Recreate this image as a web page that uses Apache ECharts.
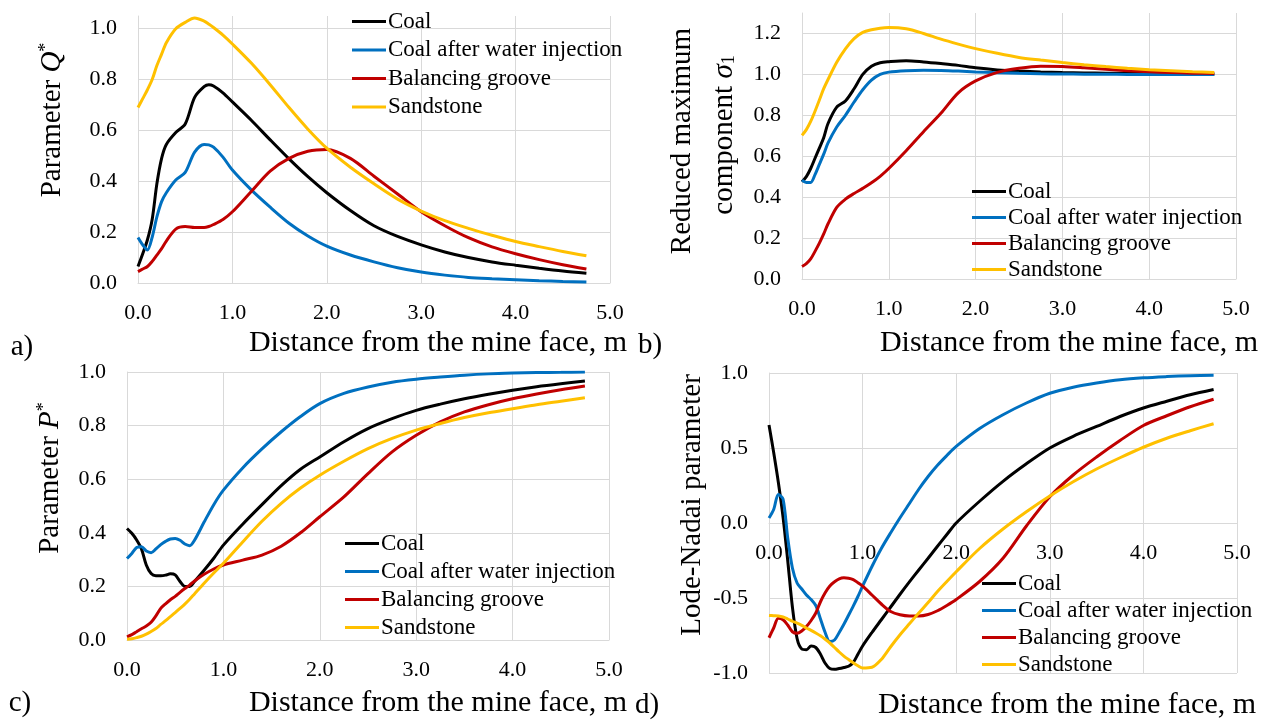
<!DOCTYPE html>
<html>
<head>
<meta charset="utf-8">
<script src="https://cdn.jsdelivr.net/npm/echarts@6/dist/echarts.min.js"></script>
<style>
  html, body { margin: 0; padding: 0; background: #fff; }
  #chart { width: 1267px; height: 720px; }
</style>
</head>
<body>
<div id="chart"></div>
<script>
// series names and colours (same in all four panels)
const seriesNames = ["Coal", "Coal after water injection", "Balancing groove", "Sandstone"];
const seriesColors = ["#000000", "#0070C0", "#C00000", "#FFC000"];

// a) parameter Q*
const distA = [0, 0.05, 0.1, 0.15, 0.2, 0.25, 0.3, 0.4, 0.5, 0.6, 0.7, 0.75, 0.8, 0.9, 1.0, 1.2, 1.4, 1.6, 1.8, 2.0, 2.25, 2.5, 2.75, 3.0, 3.25, 3.5, 3.75, 4.0, 4.25, 4.5, 4.75];
const qCoal = [0.065, 0.115, 0.17, 0.25, 0.39, 0.49, 0.545, 0.592, 0.625, 0.73, 0.772, 0.78, 0.775, 0.748, 0.712, 0.64, 0.563, 0.488, 0.418, 0.355, 0.285, 0.225, 0.183, 0.15, 0.122, 0.1, 0.083, 0.07, 0.058, 0.047, 0.038];
const qWater = [0.179, 0.15, 0.13, 0.18, 0.26, 0.32, 0.355, 0.405, 0.435, 0.515, 0.545, 0.543, 0.534, 0.495, 0.444, 0.366, 0.298, 0.235, 0.185, 0.145, 0.11, 0.083, 0.06, 0.043, 0.031, 0.022, 0.017, 0.013, 0.009, 0.006, 0.004];
const qGroove = [0.045, 0.055, 0.065, 0.085, 0.11, 0.135, 0.165, 0.212, 0.222, 0.218, 0.218, 0.222, 0.23, 0.25, 0.28, 0.36, 0.44, 0.49, 0.518, 0.525, 0.49, 0.42, 0.35, 0.28, 0.225, 0.178, 0.142, 0.115, 0.092, 0.072, 0.055];
const qSand = [0.69, 0.725, 0.76, 0.8, 0.855, 0.9, 0.945, 1.0, 1.025, 1.042, 1.03, 1.018, 1.005, 0.975, 0.94, 0.865, 0.78, 0.69, 0.605, 0.53, 0.455, 0.39, 0.33, 0.283, 0.245, 0.215, 0.188, 0.163, 0.143, 0.124, 0.107];

// b) reduced maximum component sigma1
const distB = [0, 0.05, 0.1, 0.15, 0.2, 0.25, 0.3, 0.4, 0.5, 0.6, 0.7, 0.8, 0.9, 1.0, 1.2, 1.4, 1.6, 1.8, 2.0, 2.25, 2.5, 2.75, 3.0, 3.25, 3.5, 3.75, 4.0, 4.25, 4.5, 4.75];
const sCoal = [0.475, 0.5, 0.54, 0.59, 0.64, 0.69, 0.76, 0.84, 0.87, 0.93, 1.0, 1.04, 1.057, 1.062, 1.067, 1.061, 1.053, 1.044, 1.032, 1.022, 1.016, 1.012, 1.009, 1.007, 1.006, 1.005, 1.004, 1.003, 1.002, 1.001];
const sWater = [0.483, 0.472, 0.472, 0.51, 0.56, 0.61, 0.665, 0.743, 0.8, 0.865, 0.925, 0.972, 1.0, 1.011, 1.018, 1.02, 1.019, 1.016, 1.012, 1.008, 1.005, 1.003, 1.002, 1.001, 1.001, 1.0, 1.0, 1.0, 1.0, 1.0];
const sGroove = [0.061, 0.075, 0.098, 0.135, 0.175, 0.22, 0.27, 0.35, 0.39, 0.418, 0.443, 0.47, 0.502, 0.54, 0.627, 0.72, 0.81, 0.91, 0.968, 1.01, 1.03, 1.04, 1.038, 1.032, 1.025, 1.018, 1.013, 1.009, 1.006, 1.004];
const sSand = [0.702, 0.73, 0.77, 0.82, 0.875, 0.93, 0.975, 1.059, 1.125, 1.175, 1.205, 1.218, 1.226, 1.229, 1.223, 1.2, 1.172, 1.148, 1.126, 1.103, 1.083, 1.07, 1.058, 1.047, 1.038, 1.03, 1.023, 1.018, 1.013, 1.009];

// c) parameter P*
const distC = [0, 0.05, 0.1, 0.15, 0.2, 0.25, 0.3, 0.35, 0.4, 0.45, 0.5, 0.55, 0.6, 0.65, 0.7, 0.8, 0.9, 1.0, 1.2, 1.4, 1.6, 1.8, 2.0, 2.25, 2.5, 2.75, 3.0, 3.25, 3.5, 3.75, 4.0, 4.25, 4.5, 4.75];
const pCoal = [0.416, 0.398, 0.373, 0.34, 0.28, 0.248, 0.24, 0.24, 0.242, 0.247, 0.243, 0.218, 0.2, 0.2, 0.218, 0.26, 0.305, 0.354, 0.432, 0.505, 0.576, 0.637, 0.683, 0.74, 0.789, 0.826, 0.857, 0.88, 0.9, 0.917, 0.932, 0.945, 0.956, 0.966];
const pWater = [0.304, 0.323, 0.345, 0.348, 0.332, 0.326, 0.34, 0.356, 0.368, 0.377, 0.379, 0.372, 0.358, 0.352, 0.372, 0.44, 0.505, 0.559, 0.642, 0.713, 0.777, 0.834, 0.882, 0.92, 0.944, 0.962, 0.973, 0.981, 0.988, 0.993, 0.996, 0.998, 0.999, 1.0];
const pGroove = [0.012, 0.02, 0.031, 0.042, 0.052, 0.066, 0.09, 0.118, 0.135, 0.15, 0.163, 0.178, 0.192, 0.205, 0.22, 0.245, 0.265, 0.28, 0.298, 0.317, 0.35, 0.4, 0.46, 0.534, 0.621, 0.702, 0.764, 0.814, 0.851, 0.878, 0.9, 0.918, 0.934, 0.948];
const pSand = [0.003, 0.005, 0.009, 0.014, 0.022, 0.032, 0.043, 0.058, 0.072, 0.087, 0.102, 0.118, 0.134, 0.152, 0.172, 0.212, 0.25, 0.286, 0.366, 0.443, 0.51, 0.567, 0.615, 0.667, 0.714, 0.752, 0.783, 0.808, 0.83, 0.848, 0.863, 0.878, 0.891, 0.904];

// d) Lode-Nadai parameter
const distD = [0, 0.05, 0.1, 0.15, 0.2, 0.25, 0.3, 0.35, 0.4, 0.45, 0.5, 0.55, 0.6, 0.65, 0.7, 0.75, 0.8, 0.85, 0.9, 0.95, 1.0, 1.1, 1.2, 1.3, 1.4, 1.5, 1.6, 1.7, 1.8, 1.9, 2.0, 2.25, 2.5, 2.75, 3.0, 3.25, 3.5, 3.75, 4.0, 4.25, 4.5, 4.75];
const lCoal = [0.654, 0.47, 0.27, 0.04, -0.25, -0.56, -0.77, -0.84, -0.845, -0.82, -0.83, -0.875, -0.935, -0.97, -0.975, -0.97, -0.963, -0.955, -0.93, -0.875, -0.82, -0.73, -0.645, -0.56, -0.475, -0.393, -0.313, -0.235, -0.155, -0.077, 0.0, 0.145, 0.278, 0.395, 0.5, 0.578, 0.644, 0.71, 0.767, 0.812, 0.855, 0.89];
const lWater = [0.033, 0.09, 0.19, 0.16, -0.1, -0.3, -0.4, -0.44, -0.48, -0.51, -0.55, -0.64, -0.73, -0.79, -0.78, -0.73, -0.675, -0.615, -0.554, -0.49, -0.421, -0.29, -0.17, -0.065, 0.035, 0.13, 0.225, 0.31, 0.385, 0.45, 0.511, 0.63, 0.722, 0.8, 0.865, 0.905, 0.933, 0.955, 0.968, 0.976, 0.982, 0.985];
const lGroove = [-0.765, -0.7, -0.635, -0.645, -0.68, -0.725, -0.735, -0.72, -0.69, -0.65, -0.6, -0.525, -0.465, -0.42, -0.392, -0.372, -0.365, -0.368, -0.377, -0.398, -0.421, -0.48, -0.54, -0.59, -0.612, -0.62, -0.62, -0.61, -0.585, -0.55, -0.51, -0.39, -0.235, -0.02, 0.175, 0.32, 0.44, 0.55, 0.65, 0.715, 0.775, 0.825];
const lSand = [-0.616, -0.618, -0.62, -0.627, -0.64, -0.655, -0.668, -0.683, -0.7, -0.716, -0.733, -0.752, -0.775, -0.8, -0.83, -0.86, -0.887, -0.91, -0.932, -0.952, -0.967, -0.962, -0.91, -0.825, -0.745, -0.672, -0.6, -0.53, -0.457, -0.39, -0.325, -0.17, -0.04, 0.075, 0.18, 0.275, 0.36, 0.435, 0.505, 0.565, 0.615, 0.662];

const serif = "'Liberation Serif', 'Times New Roman', serif";
const gridColor = "#d9d9d9";

function makeSeries(gi, xs, ys, idx) {
  return {
    type: "line",
    name: seriesNames[idx],
    xAxisIndex: gi,
    yAxisIndex: gi,
    data: xs.map((x, k) => [x, ys[k]]),
    smooth: 0.3,
    symbol: "none",
    lineStyle: { width: 3, color: seriesColors[idx] },
    itemStyle: { color: seriesColors[idx] },
  };
}

// offset lifts the d) axis up to the zero line (the grid is 300 px tall)
function makeXAxis(gi, offset) {
  return {
    type: "value",
    gridIndex: gi,
    min: 0,
    max: 5,
    interval: 1,
    offset: offset || 0,
    axisLine: { show: true, onZero: false, lineStyle: { color: gridColor } },
    axisTick: { show: false },
    splitLine: { show: true, lineStyle: { color: gridColor } },
    axisLabel: { margin: 19, fontSize: 22, color: "#000", fontFamily: serif, formatter: (v) => v.toFixed(1) },
  };
}

function makeYAxis(gi, min, max, interval, hideMax) {
  return {
    type: "value",
    gridIndex: gi,
    min,
    max,
    interval,
    axisLine: { show: true, onZero: false, lineStyle: { color: gridColor } },
    axisTick: { show: false },
    splitLine: { show: true, showMaxLine: !hideMax, lineStyle: { color: gridColor } },
    axisLabel: { margin: 21, fontSize: 22, color: "#000", fontFamily: serif, showMaxLabel: !hideMax, formatter: (v) => v.toFixed(1) },
  };
}

function makeLegend(left, top, gap) {
  return {
    left,
    top,
    orient: "vertical",
    padding: 0,
    icon: "rect",
    itemWidth: 34,
    itemHeight: 3,
    itemGap: gap,
    selectedMode: false,
    textStyle: { fontFamily: serif, fontSize: 23, color: "#000", padding: [0, 0, 0, -3] },
    data: seriesNames,
  };
}

function textEl(x, y, text, rotate, rich, size) {
  const fs = size || 29;
  return {
    type: "text",
    x,
    y,
    rotation: rotate ? Math.PI / 2 : 0,
    style: {
      text,
      rich,
      fill: "#000",
      font: fs + "px " + serif,
      fontFamily: serif,
      fontSize: fs,
      align: "center",
      verticalAlign: "middle",
      textAlign: "center",
      textVerticalAlign: "middle",
    },
  };
}

const titleRich = {
  n: { fontFamily: serif, fontSize: 29, color: "#000" },
  i: { fontFamily: serif, fontSize: 29, fontStyle: "italic", color: "#000" },
  sup: { fontFamily: serif, fontSize: 18, color: "#000", verticalAlign: "top", padding: [0, 0, 12, 0] },
  sub: { fontFamily: serif, fontSize: 18, color: "#000", verticalAlign: "bottom", padding: [10, 0, 0, 0] },
};

const xTitle = "Distance from the mine face, m";

const chart = echarts.init(document.getElementById("chart"));
chart.setOption({
  animation: false,
  backgroundColor: "#fff",
  grid: [
    { left: 138, top: 16, width: 472, height: 267 },
    { left: 802, top: 13, width: 434, height: 266 },
    { left: 127, top: 372, width: 482, height: 268 },
    { left: 769, top: 373, width: 468, height: 300 },
  ],
  xAxis: [makeXAxis(0), makeXAxis(1), makeXAxis(2), makeXAxis(3, -150)],
  yAxis: [
    makeYAxis(0, 0, 1.05, 0.2, true),
    makeYAxis(1, 0, 1.3, 0.2, true),
    makeYAxis(2, 0, 1.0, 0.2, false),
    makeYAxis(3, -1, 1, 0.5, false),
  ],
  legend: [
    makeLegend(352, 10, 5.5),
    makeLegend(972, 180, 3),
    makeLegend(345, 532, 5),
    makeLegend(982, 572, 4),
  ],
  series: [
    makeSeries(0, distA, qCoal, 0),
    makeSeries(0, distA, qWater, 1),
    makeSeries(0, distA, qGroove, 2),
    makeSeries(0, distA, qSand, 3),
    makeSeries(1, distB, sCoal, 0),
    makeSeries(1, distB, sWater, 1),
    makeSeries(1, distB, sGroove, 2),
    makeSeries(1, distB, sSand, 3),
    makeSeries(2, distC, pCoal, 0),
    makeSeries(2, distC, pWater, 1),
    makeSeries(2, distC, pGroove, 2),
    makeSeries(2, distC, pSand, 3),
    makeSeries(3, distD, lCoal, 0),
    makeSeries(3, distD, lWater, 1),
    makeSeries(3, distD, lGroove, 2),
    makeSeries(3, distD, lSand, 3),
  ],
  graphic: [
    textEl(52, 120, "{n|Parameter }{i|Q}{sup|*}", true, titleRich),
    textEl(682, 141, "{n|Reduced maximum}", true, titleRich),
    textEl(724, 135, "{n|component }{i|σ}{sub|1}", true, titleRich),
    textEl(50, 478, "{n|Parameter }{i|P}{sup|*}", true, titleRich),
    textEl(692, 505, "{n|Lode-Nadai parameter}", true, titleRich),
    textEl(438, 343, xTitle, false, null, 30),
    textEl(1069, 343, xTitle, false, null, 30),
    textEl(438, 703, xTitle, false, null, 30),
    textEl(1067, 705, xTitle, false, null, 30),
    textEl(22, 347, "a)", false),
    textEl(650, 345, "b)", false),
    textEl(20, 703, "c)", false),
    textEl(647, 705, "d)", false),
  ],
});
</script>
</body>
</html>
